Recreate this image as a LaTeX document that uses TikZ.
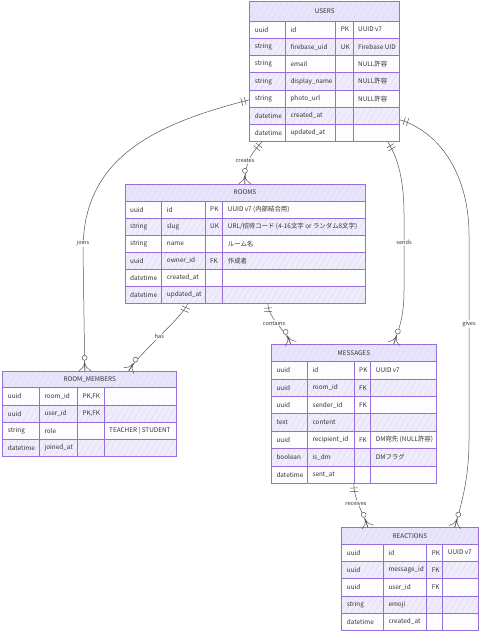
\documentclass[tikz,border=0pt]{standalone}
\usepackage{fontspec}
\setmainfont{Noto Sans CJK JP}
\usetikzlibrary{calc,fit,decorations.markings,patterns.meta}
\definecolor{erborder}{HTML}{9370DB}
\definecolor{erheadc}{HTML}{E8E5FB}
\definecolor{erevenc}{HTML}{EFEDFC}
\definecolor{eroddc}{HTML}{FDFDFF}
\definecolor{erhatch}{HTML}{D9D2F6}
\definecolor{ertext}{HTML}{333333}
\definecolor{edgecol}{HTML}{555555}
\tikzset{
  cell/.style={anchor=west, inner sep=0pt, text=ertext, font=\fontsize{6.4}{7}\selectfont},
  ertitle/.style={inner sep=0pt, text=ertext, font=\fontsize{6.4}{7}\selectfont},
  erin/.style={draw=erborder, line width=0.7pt},
  erout/.style={draw=erborder, line width=1pt},
  hatchfill/.style={pattern={Lines[angle=60,distance=5pt,line width=0.3pt]}, pattern color=erhatch},
  mk/.style={draw=edgecol, line width=0.5pt},
  rlabel/.style={fill=white, fill opacity=0.85, text opacity=1, inner sep=0.8pt, text=ertext, font=\fontsize{5.6}{6}\selectfont},
  rel/.style={draw=edgecol, line width=0.5pt, postaction={decorate},
    decoration={markings,
      mark=at position 0 with {\draw[mk] (4.5,-4)--(4.5,4) (8,-4)--(8,4);},
      mark=at position 1 with {\draw[mk] (-9,0)--(0,0) (-9,0) .. controls (-4,-0.5) and (-1.5,-3) .. (0,-6) (-9,0) .. controls (-4,0.5) and (-1.5,3) .. (0,6); \filldraw[mk,fill=white] (-13,0) circle[radius=2.5];}}}
}
\newcommand\erhead[9]{%
  \gdef\ERtn{#1}\gdef\ERxa{#3}\gdef\ERxb{#4}\gdef\ERxc{#5}\gdef\ERxd{#6}\gdef\ERxe{#7}\gdef\ERyt{#8}\gdef\ERyh{#9}%
  \fill[erheadc] (#3,#8) rectangle (#7,#9);
  \fill[hatchfill] (#3,#8) rectangle (#7,#9);
  \node[ertitle] (#1-title) at ({(#3+#7)/2},{(#8+#9)/2}) {#2};
}
\newcommand\errow[5]{%
  \pgfmathsetmacro\ERya{\ERyh+(#1-1)*\ERrh}%
  \pgfmathsetmacro\ERyb{\ERyh+#1*\ERrh}%
  \pgfmathsetmacro\ERym{(\ERya+\ERyb)/2}%
  \ifodd#1\relax \fill[eroddc] (\ERxa,\ERya) rectangle (\ERxe,\ERyb);\else \fill[erevenc] (\ERxa,\ERya) rectangle (\ERxe,\ERyb);\fill[hatchfill] (\ERxa,\ERya) rectangle (\ERxe,\ERyb);\fi
  \node[cell] (\ERtn-#1-1) at (\ERxa+5,\ERym) {#2};
  \node[cell] (\ERtn-#1-2) at (\ERxb+5,\ERym) {#3};
  \node[cell] (\ERtn-#1-3) at (\ERxc+5,\ERym) {#4};
  \node[cell] (\ERtn-#1-4) at (\ERxd+5,\ERym) {#5};
}
\newcommand\erclose[1]{%
  \pgfmathsetmacro\ERyb{\ERyh+#1*\ERrh}%
  \pgfmathtruncatemacro\ERn{#1-1}%
  \foreach \ERi in {0,...,\ERn} {\pgfmathsetmacro\ERyy{\ERyh+\ERi*\ERrh}\draw[erin] (\ERxa,\ERyy) -- (\ERxe,\ERyy);}
  \draw[erin] (\ERxb,\ERyh) -- (\ERxb,\ERyb) (\ERxc,\ERyh) -- (\ERxc,\ERyb) (\ERxd,\ERyh) -- (\ERxd,\ERyb);
  \draw[erout] (\ERxa,\ERyt) rectangle (\ERxe,\ERyb);
  \node[fit={(\ERxa,\ERyt)(\ERxe,\ERyb)}, inner sep=0pt] (\ERtn) {};
}
\begin{document}
\begin{tikzpicture}[x=1pt,y=-1pt]
\fill[white] (0,0) rectangle (480,631);
\useasboundingbox (0,0) rectangle (480,631);

% USERS
\erhead{users}{USERS}{249.7}{285.3}{335.7}{353}{399.7}{2}{21}
\def\ERrh{17.25}
\errow{1}{uuid}{id}{PK}{UUID v7}
\errow{2}{string}{firebase\_uid}{UK}{Firebase UID}
\errow{3}{string}{email}{}{NULL許容}
\errow{4}{string}{display\_name}{}{NULL許容}
\errow{5}{string}{photo\_url}{}{NULL許容}
\errow{6}{datetime}{created\_at}{}{}
\errow{7}{datetime}{updated\_at}{}{}
\erclose{7}

% ROOMS
\erhead{rooms}{ROOMS}{125}{161.7}{205}{222.7}{365}{184}{201}
\def\ERrh{17.05}
\errow{1}{uuid}{id}{PK}{UUID v7 (内部結合用)}
\errow{2}{string}{slug}{UK}{URL/招待コード (4-16文字 or ランダム8文字)}
\errow{3}{string}{name}{}{ルーム名}
\errow{4}{uuid}{owner\_id}{FK}{作成者}
\errow{5}{datetime}{created\_at}{}{}
\errow{6}{datetime}{updated\_at}{}{}
\erclose{6}

% ROOM_MEMBERS
\erhead{rm}{ROOM\_MEMBERS}{2.7}{39.3}{77.3}{104}{176.7}{371}{387.7}
\def\ERrh{17.25}
\errow{1}{uuid}{room\_id}{PK,FK}{}
\errow{2}{uuid}{user\_id}{PK,FK}{}
\errow{3}{string}{role}{}{TEACHER | STUDENT}
\errow{4}{datetime}{joined\_at}{}{}
\erclose{4}

% MESSAGES
\erhead{msgs}{MESSAGES}{271.3}{307.3}{354}{370.7}{436.5}{344}{361.7}
\def\ERrh{17.37}
\errow{1}{uuid}{id}{PK}{UUID v7}
\errow{2}{uuid}{room\_id}{FK}{}
\errow{3}{uuid}{sender\_id}{FK}{}
\errow{4}{text}{content}{}{}
\errow{5}{uuid}{recipient\_id}{FK}{DM宛先 (NULL許容)}
\errow{6}{boolean}{is\_dm}{}{DMフラグ}
\errow{7}{datetime}{sent\_at}{}{}
\erclose{7}

% REACTIONS
\erhead{react}{REACTIONS}{341.7}{383.3}{426.7}{442.7}{478}{527.3}{544}
\def\ERrh{17.3}
\errow{1}{uuid}{id}{PK}{UUID v7}
\errow{2}{uuid}{message\_id}{FK}{}
\errow{3}{uuid}{user\_id}{FK}{}
\errow{4}{string}{emoji}{}{}
\errow{5}{datetime}{created\_at}{}{}
\erclose{5}

% relationships
\draw[rel] ($(users.south west)+(12.3,0)$) .. controls (255,150) and (245,158) .. ($(rooms.north west)+(120,0)$);
\draw[rel] ($(users.north west)+(0,98)$) .. controls (150,125) and (83,160) .. (83,250) -- ($(rm.north west)+(82.3,0)$);
\draw[rel] ($(rooms.south west)+(63,0)$) .. controls (182,318) and (140,352) .. ($(rm.north west)+(126.3,0)$);
\draw[rel] ($(rooms.south west)+(143,0)$) .. controls (268,318) and (284,328) .. ($(msgs.north west)+(19.7,0)$);
\draw[rel] ($(users.south west)+(138.3,0)$) .. controls (398,158) and (404,180) .. (404,215) -- (404,290) .. controls (404,318) and (399,328) .. ($(msgs.north west)+(122.7,0)$);
\draw[rel] ($(users.north east)+(0,118)$) .. controls (440,132) and (469,175) .. (469,235) -- (469,440) .. controls (469,480) and (461,505) .. ($(react.north west)+(113.3,0)$);
\draw[rel] ($(msgs.south west)+(82.7,0)$) .. controls (354,500) and (362,510) .. ($(react.north west)+(26.3,0)$);

\node[rlabel] (l-creates) at (245,161) {creates};
\node[rlabel] (l-joins) at (83,243.3) {joins};
\node[rlabel] (l-has) at (159.3,336.7) {has};
\node[rlabel] (l-contains) at (274,323.3) {contains};
\node[rlabel] (l-sends) at (404,242.7) {sends};
\node[rlabel] (l-gives) at (469,324) {gives};
\node[rlabel] (l-receives) at (356,503.3) {receives};
\end{tikzpicture}
\end{document}
